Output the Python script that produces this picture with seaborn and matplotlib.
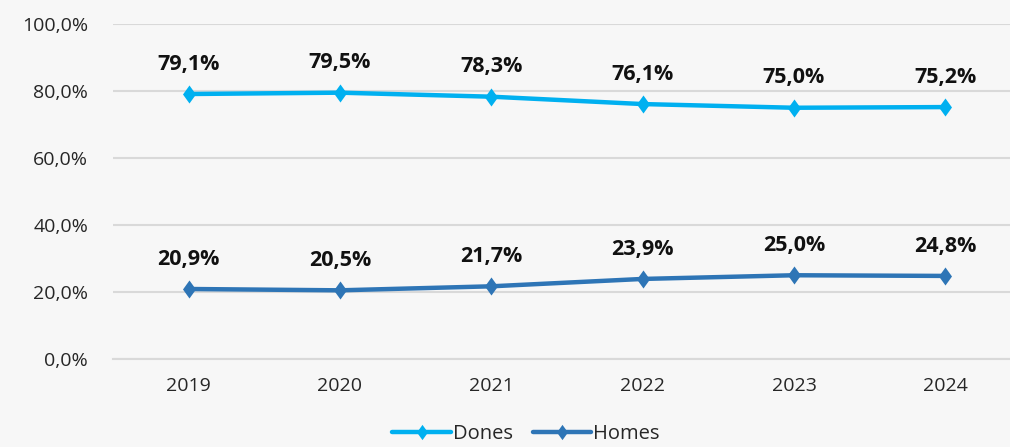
import numpy as np
import pandas as pd
import matplotlib
matplotlib.use("Agg")
import matplotlib.pyplot as plt
import seaborn as sns

years = ["2019", "2020", "2021", "2022", "2023", "2024"]
dones = [79.1, 79.5, 78.3, 76.1, 75.0, 75.2]
homes = [20.9, 20.5, 21.7, 23.9, 25.0, 24.8]
series_names = ["Dones", "Homes"]
colors = {"Dones": "#00B0F0", "Homes": "#2E75B6"}

df = pd.DataFrame({
    "any": years * 2,
    "valor": dones + homes,
    "sexe": ["Dones"] * len(years) + ["Homes"] * len(years),
})

sns.set_style("white")
plt.rcParams["font.family"] = ["Open Sans", "DejaVu Sans"]

bg = "#F7F7F7"
# diamant una mica més alt que ample
diamond = [(0, -1), (0.72, 0), (0, 1), (-0.72, 0)]

fig = plt.figure(figsize=(10.10, 4.47), dpi=100, facecolor=bg)
ax = fig.add_axes([113 / 1010, 88 / 447, 908 / 1010, 335 / 447])
ax.set_facecolor(bg)

sns.lineplot(data=df, x="any", y="valor", hue="sexe", palette=colors,
             marker=diamond, markersize=13, markeredgewidth=0, linewidth=3.2,
             ax=ax, legend=False, zorder=3)

# etiquetes de dades
for name, vals in zip(series_names, [dones, homes]):
    for i, v in enumerate(vals):
        ax.annotate(f"{v:.1f}%".replace(".", ","), (i, v), xytext=(0, 21.5),
                    textcoords="offset points", ha="center", va="center",
                    fontsize=15.5, fontweight="bold", color="#111111")

ax.set_ylim(0, 100)
ax.set_xlim(-0.5, len(years) - 0.5)
ax.set_yticks(np.arange(0, 101, 20))
ax.set_yticklabels([f"{t:.1f}%".replace(".", ",") for t in np.arange(0, 101, 20)])
ax.yaxis.grid(True, color="#D9D9D9", linewidth=1.5, zorder=0)
ax.set_axisbelow(True)
for s in ["top", "right", "left"]:
    ax.spines[s].set_visible(False)
ax.spines["bottom"].set_color("#D9D9D9")
ax.spines["bottom"].set_linewidth(1.5)
ax.tick_params(axis="both", length=0, labelsize=14, colors="#262626")
ax.tick_params(axis="x", pad=13)
ax.tick_params(axis="y", pad=18)
ax.set_xlabel("")
ax.set_ylabel("")

handles = [plt.Line2D([], [], color=colors[n], marker=diamond, markersize=11,
                      markeredgewidth=0, linewidth=3.2) for n in series_names]
fig.legend(handles, series_names, loc="center", bbox_to_anchor=(0.521, 0.03),
           ncol=2, frameon=False, fontsize=14.5, handlelength=2.9,
           handletextpad=0.1, columnspacing=1.0)

fig.savefig("out.png", dpi=100, facecolor=bg)
